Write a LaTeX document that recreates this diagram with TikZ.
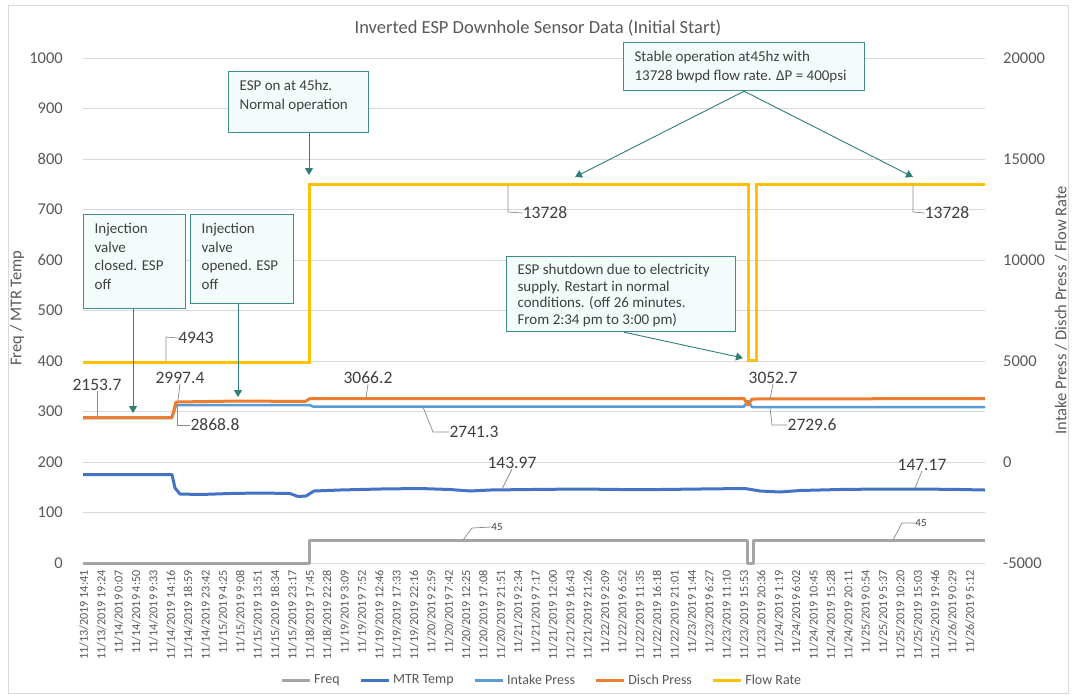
\documentclass[tikz,border=0pt]{standalone}
\usepackage{fontspec}
\setmainfont{Carlito}
\usetikzlibrary{arrows.meta,calc}
\definecolor{gridc}{HTML}{D9D9D9}
\definecolor{axtext}{HTML}{595959}
\definecolor{labtext}{HTML}{404040}
\definecolor{freqc}{HTML}{A5A5A5}
\definecolor{mtrc}{HTML}{4472C4}
\definecolor{intakec}{HTML}{5B9BD5}
\definecolor{dischc}{HTML}{ED7D31}
\definecolor{flowc}{HTML}{FFC000}
\definecolor{noteborder}{HTML}{3F8F89}
\definecolor{notefill}{HTML}{F4FBFB}
\definecolor{callc}{HTML}{2F7F78}
\definecolor{leadc}{HTML}{8C8C8C}
\begin{document}
\begin{tikzpicture}[x=1pt,y=-1pt,
  grid/.style={draw=gridc, line width=0.8pt},
  tickl/.style={font=\fontsize{16.5}{19}\selectfont, text=axtext, inner sep=0pt, anchor=east},
  tickr/.style={font=\fontsize{16.5}{19}\selectfont, text=axtext, inner sep=0pt, anchor=west},
  axtitle/.style={font=\fontsize{16.5}{19}\selectfont, text=axtext, inner sep=0pt, rotate=90},
  xlab/.style={font=\fontsize{12.2}{14}\selectfont, text=axtext, inner sep=0pt, rotate=90, anchor=east},
  dlab/.style={font=\fontsize{17.5}{20}\selectfont, text=labtext, inner sep=0pt},
  slab/.style={font=\fontsize{11}{13}\selectfont, text=labtext, inner sep=0pt},
  lead/.style={draw=leadc, line width=0.7pt},
  note/.style={draw=noteborder, fill=notefill, line width=1.2pt, text=labtext, anchor=north west, inner xsep=11pt, inner ysep=6pt},
  notefont/.style={font=\fontsize{15}{18.5}\selectfont},
  tightfont/.style={font=\fontsize{15}{16.8}\selectfont},
  call/.style={draw=callc, line width=0.9pt, -{Triangle[length=7pt,width=8pt]}},
  series/.style={line width=3pt, line join=round},
  legt/.style={font=\fontsize{14}{16}\selectfont, text=axtext, inner sep=0pt, anchor=west},
  legl/.style={line width=3pt},
]
\useasboundingbox (0,0) rectangle (1075,694);
% chart frame
\draw[draw=gridc, line width=1pt, fill=white] (8,5) rectangle (1068,693);
% title
\node[font=\fontsize{18.5}{21}\selectfont, text=axtext, inner sep=0pt] (title) at (538,28) {Inverted ESP Downhole Sensor Data (Initial Start)};
% gridlines and ticks
\foreach \v [count=\k from 0] in {1000,900,800,700,600,500,400,300,200,100,0} {
  \draw[grid] (83,{58+50.5*\k}) -- (985,{58+50.5*\k});
  \node[tickl] (tl\k) at (63,{58+50.5*\k}) {\v};
}
\foreach \v [count=\k from 0] in {20000,15000,10000,5000,0,-5000} {
  \node[tickr] (tr\k) at (1003,{58+101*\k}) {\v};
}
% axis titles
\node[axtitle] (ytl) at (17,308) {Freq / MTR Temp};
\node[axtitle] (ytr) at (1061,310) {Intake Press / Disch Press / Flow Rate};
% x labels
\foreach \t [count=\i from 0] in {11/13/2019 14:41,11/13/2019 19:24,11/14/2019 0:07,11/14/2019 4:50,11/14/2019 9:33,11/14/2019 14:16,11/14/2019 18:59,11/14/2019 23:42,11/15/2019 4:25,11/15/2019 9:08,11/15/2019 13:51,11/15/2019 18:34,11/15/2019 23:17,11/18/2019 17:45,11/18/2019 22:28,11/19/2019 3:09,11/19/2019 7:52,11/19/2019 12:46,11/19/2019 17:33,11/19/2019 22:16,11/20/2019 2:59,11/20/2019 7:42,11/20/2019 12:25,11/20/2019 17:08,11/20/2019 21:51,11/21/2019 2:34,11/21/2019 7:17,11/21/2019 12:00,11/21/2019 16:43,11/21/2019 21:26,11/22/2019 2:09,11/22/2019 6:52,11/22/2019 11:35,11/22/2019 16:18,11/22/2019 21:01,11/23/2019 1:44,11/23/2019 6:27,11/23/2019 11:10,11/23/2019 15:53,11/23/2019 20:36,11/24/2019 1:19,11/24/2019 6:02,11/24/2019 10:45,11/24/2019 15:28,11/24/2019 20:11,11/25/2019 0:54,11/25/2019 5:37,11/25/2019 10:20,11/25/2019 15:03,11/25/2019 19:46,11/26/2019 0:29,11/26/2019 5:12} {
  \node[xlab] (x\i) at ({84+\i*17.37},570) {\t};
}
% series
\draw[series, freqc] (83,563) -- (309,563) -- (309,540) -- (747,540) -- (747,563) -- (753,563) -- (753,540) -- (985,540);
\draw[series, mtrc] (83,474.6) -- (172,474.6) -- (175,488) -- (180,494) -- (200,494.5) -- (230,493.5) -- (260,493) -- (290,493.5) -- (298,496.5) -- (306,496) -- (314,491) -- (340,490) -- (380,489) -- (420,488.5) -- (450,489.5) -- (470,491) -- (490,490) -- (530,489.5) -- (580,489) -- (620,489.5) -- (660,489.5) -- (700,489) -- (745,488.5) -- (760,491) -- (780,492) -- (800,490.5) -- (840,489.5) -- (880,489) -- (920,489) -- (960,489.5) -- (985,490);
\draw[series, line width=2.5pt, intakec] (83,418) -- (172,418) -- (176,405) -- (309,405) -- (313,406.5) -- (744,406.5) -- (748,401) -- (752,407) -- (985,407);
\draw[series, dischc] (83,417.5) -- (172,417.5) -- (176,402) -- (240,401) -- (305,401.5) -- (310,398.5) -- (744,398.5) -- (748,405) -- (752,399) -- (985,398.5);
\draw[series, flowc, line join=miter] (83,362) -- (309,362) -- (309,184.7) -- (748,184.7) -- (748,360) -- (756,360) -- (756,184.7) -- (985,184.7);
% data labels
\node[dlab] (d4943) at (196,338) {4943};
\draw[lead] (166,361) -- (166,337) -- (d4943.west);
\node[dlab] (d2153) at (97,385) {2153.7};
\draw[lead] (97,416) -- (d2153.south);
\node[dlab] (d2997) at (180,378) {2997.4};
\draw[lead] (178,400) -- (d2997.south);
\node[dlab] (d2868) at (215,425) {2868.8};
\draw[lead] (177,405) -- (177,425) -- (d2868.west);
\node[dlab] (d3066) at (368,378) {3066.2};
\draw[lead] (366,398) -- (d3066.south);
\node[dlab] (d2741) at (474,432) {2741.3};
\draw[lead] (423,407) -- (433,432) -- (d2741.west);
\node[dlab] (d14397) at (512,463) {143.97};
\draw[lead] (502,489) -- (d14397.south);
\node[slab] (d45a) at (497,527) {45};
\draw[lead] (463,540) -- (472,528) -- (d45a.west);
\node[dlab] (d13728a) at (545,213) {13728};
\draw[lead] (508,185) -- (508,212) -- (d13728a.west);
\node[dlab] (d13728b) at (947,213) {13728};
\draw[lead] (913,185) -- (913,212) -- (d13728b.west);
\node[dlab] (d3052) at (773,378) {3052.7};
\draw[lead] (770,399) -- (d3052.south);
\node[dlab] (d2729) at (812,425) {2729.6};
\draw[lead] (770,408) -- (772,425) -- (d2729.west);
\node[dlab] (d14717) at (922,465) {147.17};
\draw[lead] (915,488) -- (d14717.south);
\node[slab] (d45b) at (921,523) {45};
\draw[lead] (893,540) -- (902,523) -- (d45b.west);
% annotation boxes
\node[note, notefont] (nA) at (228,71) {\parbox[t][49pt][t]{118pt}{\raggedright\strut ESP on at 45hz.\\Normal operation}};
\node[note, notefont] (nB) at (623,42) {\parbox[t][36pt][t]{219pt}{\raggedright\strut Stable operation at45hz with\\13728 bwpd flow rate. ΔP = 400psi}};
\node[note, notefont] (nC) at (83,214) {\parbox[t][82pt][t]{80pt}{\raggedright\strut Injection\\valve\\closed. ESP\\off}};
\node[note, notefont] (nD) at (190,214) {\parbox[t][77pt][t]{81pt}{\raggedright\strut Injection\\valve\\opened. ESP\\off}};
\node[note, tightfont] (nE) at (506,256) {\parbox[t][63pt][t]{207pt}{\raggedright\strut ESP shutdown due to electricity\\supply. Restart in normal\\conditions. (off 26 minutes.\\From 2:34 pm to 3:00 pm)}};
% callout arrows
\coordinate (tA) at (309,175);
\coordinate (tB1) at (575,177);
\coordinate (tB2) at (913,177);
\coordinate (tC) at (133,413);
\coordinate (tD) at (238,397);
\coordinate (tE) at (743,358);
\draw[call] (nA.south -| tA) -- (tA);
\draw[call] (nB.south) -- (tB1);
\draw[call] (nB.south) -- (tB2);
\draw[call] (nC.south -| tC) -- (tC);
\draw[call] (nD.south -| tD) -- (tD);
\draw[call] ($(nE.south)+(3,0)$) -- (tE);
% legend
\coordinate (lg0) at (282,680);
\draw[legl, freqc] (lg0) -- ++(28,0) coordinate (lg0e);
\node[legt] (lgFreq) at ($(lg0e)+(4,0)$) {Freq};
\coordinate (lg1) at ($(lgFreq.east)+(21,0)$);
\draw[legl, mtrc] (lg1) -- ++(28,0) coordinate (lg1e);
\node[legt] (lgMtr) at ($(lg1e)+(4,0)$) {MTR Temp};
\coordinate (lg2) at ($(lgMtr.east)+(21,0)$);
\draw[legl, intakec] (lg2) -- ++(28,0) coordinate (lg2e);
\node[legt] (lgIntake) at ($(lg2e)+(4,0)$) {Intake Press};
\coordinate (lg3) at ($(lgIntake.east)+(21,0)$);
\draw[legl, dischc] (lg3) -- ++(28,0) coordinate (lg3e);
\node[legt] (lgDisch) at ($(lg3e)+(4,0)$) {Disch Press};
\coordinate (lg4) at ($(lgDisch.east)+(21,0)$);
\draw[legl, flowc] (lg4) -- ++(28,0) coordinate (lg4e);
\node[legt] (lgFlow) at ($(lg4e)+(4,0)$) {Flow Rate};
\end{tikzpicture}
\end{document}
